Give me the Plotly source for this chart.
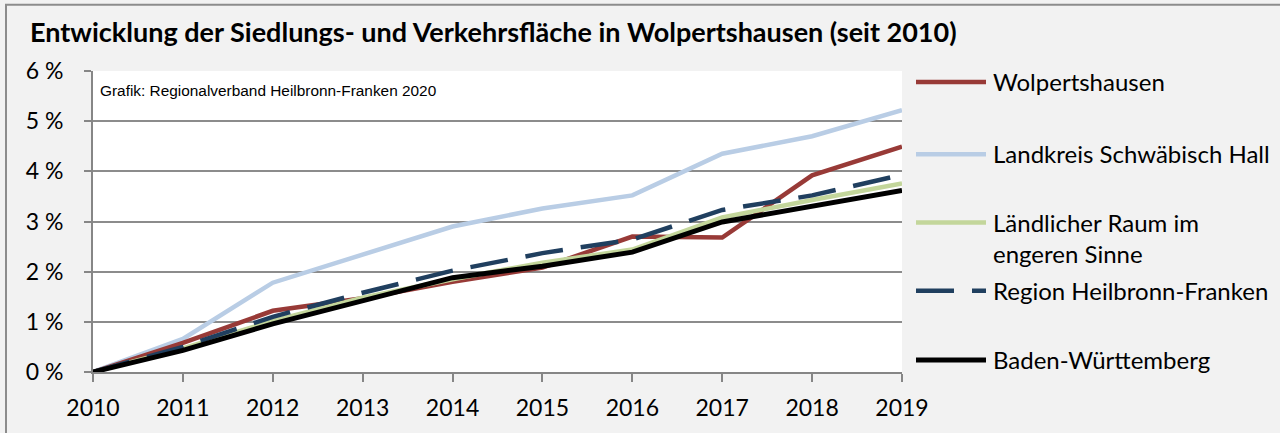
import plotly.graph_objects as go

years = [2010, 2011, 2012, 2013, 2014, 2015, 2016, 2017, 2018, 2019]

wolpertshausen = [0.0, 0.58, 1.22, 1.47, 1.80, 2.08, 2.70, 2.68, 3.92, 4.49]
landkreis_sha = [0.0, 0.66, 1.78, 2.34, 2.90, 3.26, 3.52, 4.35, 4.70, 5.22]
laendlicher_raum = [0.0, 0.47, 1.02, 1.48, 1.85, 2.18, 2.44, 3.08, 3.43, 3.76]
region_hnf = [0.0, 0.50, 1.10, 1.58, 2.02, 2.37, 2.64, 3.23, 3.52, 3.93]
baden_wuerttemberg = [0.0, 0.43, 0.96, 1.43, 1.88, 2.11, 2.39, 2.99, 3.30, 3.62]

series_names = [
    "Wolpertshausen",
    "Landkreis Schwäbisch Hall",
    "Ländlicher Raum im<br>engeren Sinne",
    "Region Heilbronn-Franken",
    "Baden-Württemberg",
]
y_ticks = [0, 1, 2, 3, 4, 5, 6]
y_tick_labels = ["0 %", "1 %", "2 %", "3 %", "4 %", "5 %", "6 %"]

title_text = "Entwicklung der Siedlungs- und Verkehrsfläche in Wolpertshausen (seit 2010)"
source_text = "Grafik: Regionalverband Heilbronn-Franken 2020"

W, H = 1280, 433
ML, MR, MT, MB = 93, 378, 71, 58
FONT = "Lato"

styles = [
    dict(color="#983a37", width=4.5, dash="solid"),
    dict(color="#b9cde5", width=4.5, dash="solid"),
    dict(color="#c3d69b", width=4.5, dash="solid"),
    dict(color="#203f5f", width=4.5, dash="38px,18px"),
    dict(color="#000000", width=5, dash="solid"),
]
data = [wolpertshausen, landkreis_sha, laendlicher_raum, region_hnf, baden_wuerttemberg]
draw_order = [1, 0, 2, 3, 4]

fig = go.Figure()
for i in draw_order:
    fig.add_trace(go.Scatter(
        x=years, y=data[i], mode="lines", name=series_names[i],
        line=dict(color=styles[i]["color"], width=styles[i]["width"], dash=styles[i]["dash"]),
        showlegend=False, hoverinfo="x+y",
    ))

shapes = []
annotations = []

pw = W - ML - MR
ph = H - MT - MB
def px_to_paper_x(px):
    return (px - ML) / pw
def px_to_paper_y(py):
    return 1 - (py - MT) / ph

# manual legend
legend_y_px = [82, 155, 224, 293, 363]
for i, ypx in enumerate(legend_y_px):
    st = styles[i]
    shapes.append(dict(
        type="line", xref="paper", yref="paper",
        x0=px_to_paper_x(916), x1=px_to_paper_x(986),
        y0=px_to_paper_y(ypx), y1=px_to_paper_y(ypx),
        line=dict(color=st["color"], width=st["width"], dash=st["dash"]),
    ))
    annotations.append(dict(
        xref="paper", yref="paper",
        x=px_to_paper_x(991), y=px_to_paper_y(ypx - 17),
        xanchor="left", yanchor="top", align="left",
        text=series_names[i], showarrow=False,
        font=dict(family=FONT, size=24, color="#000000"),
    ))

annotations.append(dict(
    xref="paper", yref="paper", x=px_to_paper_x(98), y=px_to_paper_y(80),
    xanchor="left", yanchor="top", text=source_text, showarrow=False,
    font=dict(family="Liberation Sans, Arial", size=15.4, color="#000000"),
))

# outer frame (top and left)
shapes.append(dict(type="line", xref="paper", yref="paper",
                   x0=px_to_paper_x(5), x1=px_to_paper_x(1290),
                   y0=px_to_paper_y(4), y1=px_to_paper_y(4),
                   line=dict(color="#8c8c8c", width=2)))
shapes.append(dict(type="line", xref="paper", yref="paper",
                   x0=px_to_paper_x(6), x1=px_to_paper_x(6),
                   y0=px_to_paper_y(4), y1=px_to_paper_y(440),
                   line=dict(color="#8c8c8c", width=2)))

fig.update_layout(
    width=W, height=H,
    margin=dict(l=ML, r=MR, t=MT, b=MB, pad=0),
    paper_bgcolor="#f2f2f2",
    plot_bgcolor="#ffffff",
    title=dict(text="<b>" + title_text + "</b>", x=30 / W, xanchor="left",
               y=1 - 33 / H, yanchor="middle",
               font=dict(family=FONT, size=27, color="#000000")),
    shapes=shapes,
    annotations=annotations,
    showlegend=False,
    xaxis=dict(
        range=[2010, 2019], tickmode="array", tickvals=years,
        ticktext=[str(y) for y in years],
        showgrid=False, zeroline=False,
        showline=True, linecolor="#868686", linewidth=2,
        ticks="outside", ticklen=8, tickwidth=2, tickcolor="#868686",
        tickfont=dict(family=FONT, size=23, color="#000000"),
        ticklabelstandoff=6,
    ),
    yaxis=dict(
        range=[0, 6], tickmode="array", tickvals=y_ticks, ticktext=y_tick_labels,
        showgrid=True, gridcolor="#8c8c8c", gridwidth=1.8,
        zeroline=False, showline=True, linecolor="#868686", linewidth=2,
        ticks="outside", ticklen=7, tickwidth=2, tickcolor="#868686",
        tickfont=dict(family=FONT, size=23, color="#000000"),
        ticklabelstandoff=16,
    ),
)

fig.write_html("out.html", config={"displayModeBar": False},
               post_script="document.body.style.margin='0px';document.body.style.overflow='hidden';")
